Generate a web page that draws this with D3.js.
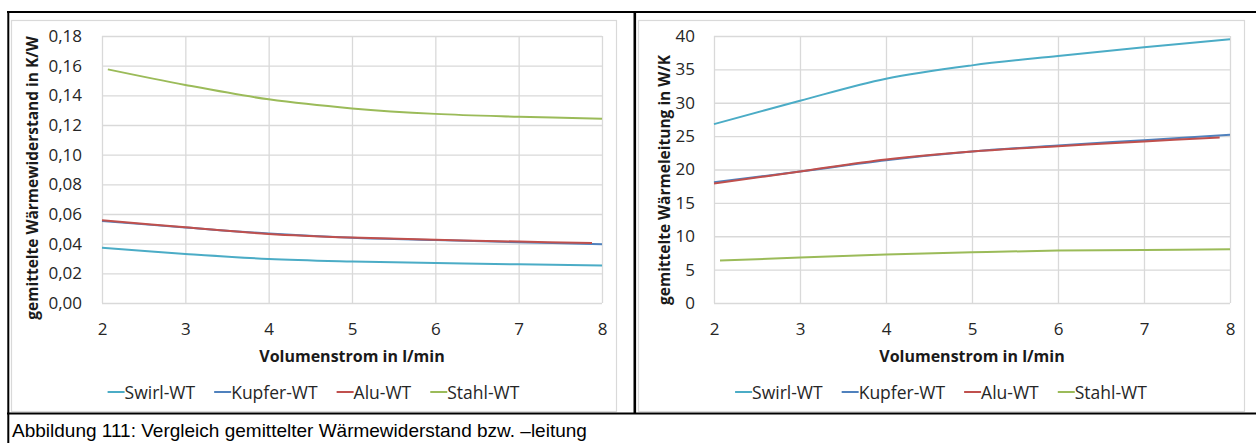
<!DOCTYPE html>
<html>
<head>
<meta charset="utf-8">
<script src="https://cdn.jsdelivr.net/npm/d3@7"></script>
<style>
  html, body { margin: 0; padding: 0; background: #fff; }
  svg { display: block; }
</style>
</head>
<body>
<svg id="fig" width="1256" height="443"></svg>
<script>
// Volumenstrom (l/min) sample points per series
const flowSwirl  = [2, 3, 4, 5, 6, 7, 8];
const flowKupfer = [2, 3, 4, 5, 6, 7, 8];
const flowAlu    = [2, 3, 4, 5, 6, 7, 7.88];
const flowStahl  = [2.07, 3, 4, 5, 6, 7, 8];

// gemittelter Wärmewiderstand in K/W
const rSwirl  = [0.0372, 0.0331, 0.0297, 0.0280, 0.0269, 0.0261, 0.0252];
const rKupfer = [0.0553, 0.0509, 0.0468, 0.0440, 0.0424, 0.0410, 0.0396];
const rAlu    = [0.0558, 0.0510, 0.0466, 0.0441, 0.0426, 0.0414, 0.0404];
const rStahl  = [0.1575, 0.1470, 0.1373, 0.1312, 0.1275, 0.1256, 0.1242];

// gemittelte Wärmeleitung in W/K
const gSwirl  = [26.8, 30.3, 33.6, 35.6, 37.0, 38.3, 39.5];
const gKupfer = [18.1, 19.7, 21.4, 22.7, 23.6, 24.4, 25.2];
const gAlu    = [17.9, 19.7, 21.5, 22.7, 23.5, 24.2, 24.8];
const gStahl  = [6.35, 6.8, 7.25, 7.6, 7.85, 7.95, 8.05];

const seriesNames  = ["Swirl-WT", "Kupfer-WT", "Alu-WT", "Stahl-WT"];
const seriesColors = ["#4bacc6", "#4f81bd", "#c0504d", "#9bbb59"];

const xTicks      = [2, 3, 4, 5, 6, 7, 8];
const yTicksLeft  = [0, 0.02, 0.04, 0.06, 0.08, 0.10, 0.12, 0.14, 0.16, 0.18];
const yTicksRight = [0, 5, 10, 15, 20, 25, 30, 35, 40];

const xTitle      = "Volumenstrom in l/min";
const yTitleLeft  = "gemittelte Wärmewiderstand in K/W";
const yTitleRight = "gemittelte Wärmeleitung in W/K";
const caption     = "Abbildung 111: Vergleich gemittelter Wärmewiderstand bzw. –leitung";

const svg = d3.select("#fig");
const chartFont = "'Open Sans', 'Noto Sans', sans-serif";
const gridColor = "#d9d9d9";
const textColor = "#262626";

function zip(xs, ys) { return xs.map((x, i) => ({ x, y: ys[i] })); }

function drawChart(cfg) {
  const g = svg.append("g");

  // chart frame
  g.append("rect")
    .attr("x", cfg.frame.x + 0.5).attr("y", cfg.frame.y + 0.5)
    .attr("width", cfg.frame.w).attr("height", cfg.frame.h)
    .attr("fill", "#fff").attr("stroke", gridColor).attr("stroke-width", 1.2);

  const x = d3.scaleLinear().domain([2, 8]).range([cfg.plot.left, cfg.plot.right]);
  const y = d3.scaleLinear().domain(cfg.yDomain).range([cfg.plot.bottom, cfg.plot.top]);

  // gridlines
  const gx = d3.axisBottom(x).tickValues(xTicks)
    .tickSize(-(cfg.plot.bottom - cfg.plot.top)).tickFormat("");
  g.append("g").attr("transform", `translate(0,${cfg.plot.bottom})`).call(gx)
    .call(s => s.select(".domain").remove())
    .call(s => s.selectAll("line").attr("stroke", gridColor).attr("stroke-width", 1.3));

  const gy = d3.axisLeft(y).tickValues(cfg.yTicks)
    .tickSize(-(cfg.plot.right - cfg.plot.left)).tickFormat("");
  g.append("g").attr("transform", `translate(${cfg.plot.left},0)`).call(gy)
    .call(s => s.select(".domain").remove())
    .call(s => s.selectAll("line").attr("stroke", gridColor).attr("stroke-width", 1.3));

  // tick labels
  const ax = d3.axisBottom(x).tickValues(xTicks).tickSize(0).tickPadding(20).tickFormat(d3.format("d"));
  g.append("g").attr("transform", `translate(0,${cfg.plot.bottom})`).call(ax)
    .call(s => s.select(".domain").remove())
    .call(s => s.selectAll("text").attr("font-family", chartFont).attr("font-size", 17).attr("fill", textColor));

  const ay = d3.axisLeft(y).tickValues(cfg.yTicks).tickSize(0).tickPadding(cfg.yPad).tickFormat(cfg.yFormat);
  g.append("g").attr("transform", `translate(${cfg.plot.left},0)`).call(ay)
    .call(s => s.select(".domain").remove())
    .call(s => s.selectAll("text").attr("font-family", chartFont).attr("font-size", 17).attr("fill", textColor));

  // axis titles
  g.append("text")
    .attr("x", (cfg.plot.left + cfg.plot.right) / 2).attr("y", 362)
    .attr("text-anchor", "middle").attr("font-family", chartFont)
    .attr("font-weight", "bold").attr("font-size", 16).attr("fill", "#1a1a1a")
    .text(xTitle);

  g.append("text")
    .attr("transform", `translate(${cfg.yTitleX},${cfg.yTitleY}) rotate(-90)`)
    .attr("text-anchor", "middle").attr("font-family", chartFont)
    .attr("font-weight", "bold").attr("font-size", 15.5).attr("fill", "#1a1a1a")
    .text(cfg.yTitle);

  // series
  const line = d3.line().x(d => x(d.x)).y(d => y(d.y)).curve(d3.curveCatmullRom.alpha(0.5));
  cfg.series.forEach((pts, i) => {
    g.append("path").datum(pts)
      .attr("fill", "none").attr("stroke", seriesColors[i])
      .attr("stroke-width", 2).attr("d", line);
  });

  // legend, centred in the chart frame
  const leg = g.append("g");
  const items = leg.selectAll("g").data(seriesNames).join("g");
  items.append("line").attr("x1", 0).attr("x2", 17).attr("y1", 0).attr("y2", 0)
    .attr("stroke", (d, i) => seriesColors[i]).attr("stroke-width", 2);
  items.append("text").attr("x", 17).attr("y", 6.5)
    .attr("font-family", chartFont).attr("font-size", 17.5).attr("fill", textColor)
    .text(d => d);
  let cx = 0;
  const gap = 19;
  items.each(function () {
    const w = 17 + this.querySelector("text").getComputedTextLength();
    d3.select(this).attr("transform", `translate(${cx},0)`);
    cx += w + gap;
  });
  const total = cx - gap;
  leg.attr("transform", `translate(${cfg.frame.x + cfg.frame.w / 2 - total / 2},392)`);
}

drawChart({
  frame: { x: 11, y: 20, w: 605, h: 391 },
  plot: { left: 102, right: 602, top: 36, bottom: 303 },
  yDomain: [0, 0.18], yTicks: yTicksLeft,
  yFormat: d => d3.format(".2f")(d).replace(".", ","),
  yPad: 20, yTitle: yTitleLeft, yTitleX: 38, yTitleY: 178,
  series: [zip(flowSwirl, rSwirl), zip(flowKupfer, rKupfer), zip(flowAlu, rAlu), zip(flowStahl, rStahl)]
});

drawChart({
  frame: { x: 638, y: 20, w: 606, h: 391 },
  plot: { left: 714, right: 1230, top: 36, bottom: 303 },
  yDomain: [0, 40], yTicks: yTicksRight,
  yFormat: d3.format("d"),
  yPad: 19, yTitle: yTitleRight, yTitleX: 670, yTitleY: 180,
  series: [zip(flowSwirl, gSwirl), zip(flowKupfer, gKupfer), zip(flowAlu, gAlu), zip(flowStahl, gStahl)]
});

// table borders around the figure
const borders = svg.append("g").attr("stroke", "#000").attr("stroke-width", 2);
borders.append("line").attr("x1", 7).attr("x2", 1256).attr("y1", 12).attr("y2", 12);
borders.append("line").attr("x1", 7).attr("x2", 1256).attr("y1", 413.5).attr("y2", 413.5);
borders.append("line").attr("x1", 8.3).attr("x2", 8.3).attr("y1", 11).attr("y2", 443);
borders.append("line").attr("x1", 634.8).attr("x2", 634.8).attr("y1", 11).attr("y2", 413.5)
  .attr("stroke-width", 2.6);

// caption
svg.append("text")
  .attr("x", 12).attr("y", 436.5)
  .attr("font-family", "'Liberation Sans', Arial, sans-serif")
  .attr("font-size", 19).attr("fill", "#000")
  .text(caption);
</script>
</body>
</html>
